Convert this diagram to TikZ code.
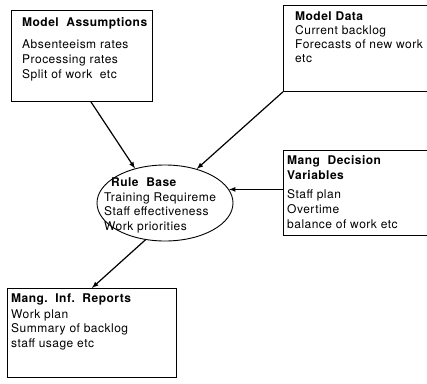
\documentclass[tikz,border=0pt]{standalone}
\usepackage{fontspec}
\setmainfont[LetterSpace=4]{TeX Gyre Heros}
\usetikzlibrary{shapes.geometric,arrows,positioning,calc}

\begin{document}
\begin{tikzpicture}[
    x=1pt, y=-1pt,
    box/.style={draw, rectangle, line width=0.8pt, anchor=north west, inner sep=0pt},
    boxtext/.style={anchor=north west, align=left, inner sep=0pt, font=\fontsize{12}{15}\selectfont},
    rulebase/.style={draw, ellipse, line width=0.9pt, inner sep=0pt},
    arrow/.style={-latex, line width=1.2pt}
]
    \clip (0,0) rectangle (427,383);

    % Boxes
    \node [box, minimum width=141pt, minimum height=91pt] (assume) at (11,10) {};
    \node [box, minimum width=160pt, minimum height=86pt] (data) at (283,5) {};
    \node [box, minimum width=160pt, minimum height=85pt] (decision) at (283,150) {};
    \node [box, minimum width=169pt, minimum height=89pt] (reports) at (7,288) {};

    % Rule base
    \node [rulebase, minimum width=136pt, minimum height=76pt] (rule) at (165,203) {};

    % Texts
    \node [boxtext] (assume_txt) at ([xshift=11pt, yshift=-7pt]assume.north west)
        {\textbf{Model\ \ Assumptions}\\[7pt] Absenteeism rates\\ Processing rates\\ Split of work\ \ etc};
    \node [boxtext, font=\fontsize{12}{14}\selectfont] (data_txt) at ([xshift=12pt, yshift=-7pt]data.north west)
        {\textbf{Model Data}\\ Current backlog\\ Forecasts of new work\\ etc};
    \node [boxtext] (decision_txt) at ([xshift=4pt, yshift=-5pt]decision.north west)
        {\textbf{Mang\ \ Decision}\\ \textbf{Variables}\\[4pt] Staff plan\\ Overtime\\ balance of work etc};
    \node [boxtext, font=\fontsize{12}{14.5}\selectfont] (reports_txt) at ([xshift=4pt, yshift=-6pt]reports.north west)
        {\textbf{Mang.\ \ Inf.\ \ Reports}\\[1pt] Work plan\\ Summary of backlog\\ staff usage etc};
    \node [boxtext, font=\fontsize{12}{14.5}\selectfont] (rule_txt) at (104,178)
        {\hspace{7pt}\textbf{Rule\ \ Base}\\ Training Requireme\\ Staff effectiveness\\ Work priorities};

    % Connections
    \draw [arrow] ([xshift=9pt]assume.south) -- (rule.131);
    \draw [arrow] (data.south west) -- (rule.47);
    \draw [arrow] (rule.12 -| decision.west) -- (rule.12);
    \draw [arrow] (rule.242) -- (reports.north);

\end{tikzpicture}
\end{document}
